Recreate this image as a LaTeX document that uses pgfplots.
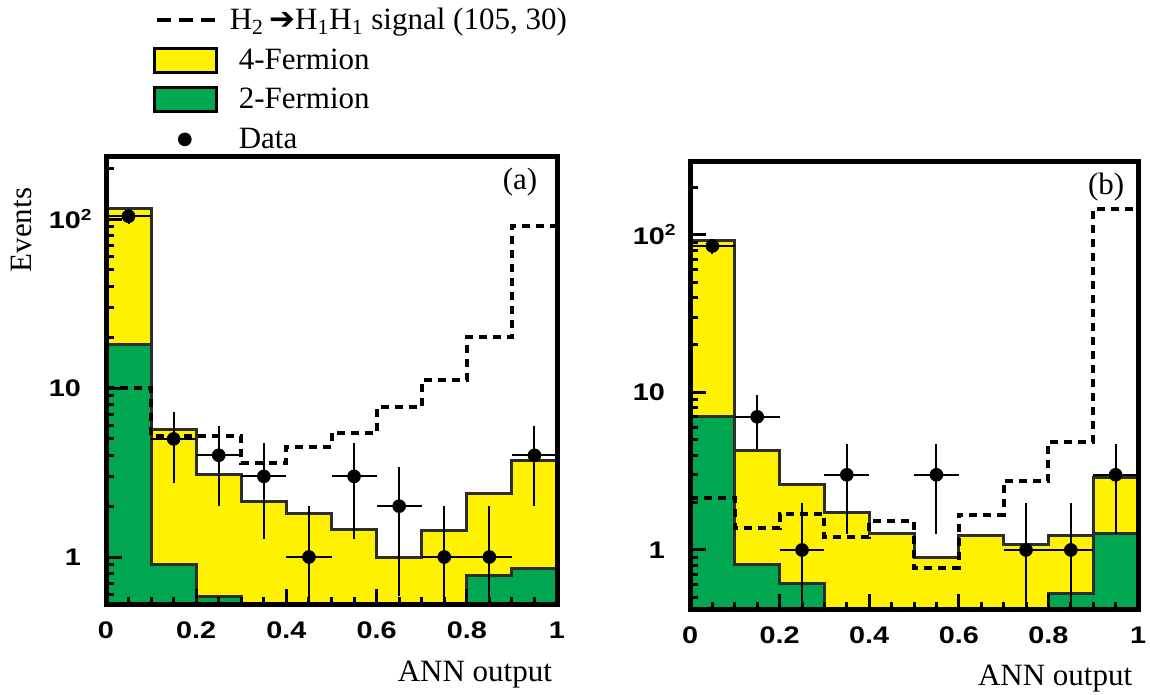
\documentclass[border=0pt]{standalone}
\usepackage{fontspec}
\setmainfont{Liberation Serif}
\newfontfamily\tickfont[FakeStretch=1.2]{Liberation Sans}
\newfontfamily\dejavu{DejaVu Sans}
\usepackage{pgfplots}
\pgfplotsset{compat=1.18}
\definecolor{yfill}{RGB}{255,242,0}
\definecolor{gfill}{RGB}{0,166,80}
\definecolor{outl}{RGB}{45,45,45}
\newcommand{\lblfont}{\fontsize{15.5}{18}\selectfont}
\pgfplotsset{
  myhist/.style={const plot, line width=1.5pt, draw=outl, mark=none},
  mysig/.style={const plot, line width=2pt, black, dash pattern=on 4pt off 3pt, mark=none},
  mydat/.style={only marks, mark=*, mark size=3.2pt, black,
    error bars/x dir=both, error bars/x explicit, error bars/y dir=both, error bars/y explicit,
    error bars/error bar style={line width=1pt, black}, error bars/error mark=none},
}
\begin{document}
\begin{tikzpicture}
\path[use as bounding box] (0,0) rectangle (575pt,347.5pt);
% ---------------- panel (a)
\begin{axis}[at={(53pt,45pt)}, anchor=south west,
    scale only axis, ymode=log, xmin=0, xmax=1, axis on top,
    axis line style={line width=2.5pt},
    every tick/.style={black, line width=1.5pt},
    every major tick/.style={black, line width=1.5pt},
    every minor tick/.style={black, line width=1.5pt},
    xtick style={black, line width=1.5pt}, ytick style={black, line width=1.5pt},
    xmajorticks=true, ymajorticks=true, xminorticks=true, yminorticks=true,
    tick align=inside, xtick pos=bottom, ytick pos=left,
    major tick length=8pt, minor tick length=4pt,
    xtick={0,0.2,0.4,0.6,0.8,1}, xticklabels={0,0.2,0.4,0.6,0.8,1},
    minor xtick={0.05,0.1,0.15,0.25,0.3,0.35,0.45,0.5,0.55,0.65,0.7,0.75,0.85,0.9,0.95},
    ytick={1,10,100}, yticklabels={1,10,10\rlap{\textsuperscript{2}}},
    ticklabel style={font=\tickfont\bfseries\fontsize{12}{14}\selectfont},
    xticklabel style={yshift=-5pt},
    yticklabel style={xshift=-9pt},
    label style={font=\lblfont},
    xlabel={ANN output},
  width=225.5pt, height=224pt, ymin=0.52, ymax=233,
  minor ytick={0.6,0.7,0.8,0.9,2,3,4,5,6,7,8,9,20,30,40,50,60,70,80,90,200},
  ylabel={Events},
  ylabel style={at={(axis description cs:-0.188,0.837)}, anchor=center},
  xlabel style={at={(axis description cs:0.818,-0.156)}, anchor=center},
  legend style={draw=none, fill=none, at={(0.104,1.342)}, anchor=north west,
    font=\lblfont, inner sep=0pt, row sep=4pt,
    /tikz/every odd column/.append style={column sep=8pt}},
  legend cell align=left,
]
\addlegendimage{legend image code/.code={\draw[black, line width=2pt, dash pattern=on 7pt off 4pt] (1pt,0pt) -- (31pt,0pt);}}
\addlegendentry{\hspace{-4.5pt}H\textsubscript{2}\,{\dejavu\bfseries ➔}H\textsubscript{1}H\textsubscript{1}\ signal (105, 30)}
\addlegendimage{legend image code/.code={\draw[fill=yfill, draw=black, line width=1.5pt] (0pt,-6pt) rectangle (31pt,6pt);}}
\addlegendentry{4-Fermion}
\addlegendimage{legend image code/.code={\draw[fill=gfill, draw=black, line width=1.5pt] (0pt,-6pt) rectangle (31pt,6pt);}}
\addlegendentry{2-Fermion}
\addlegendimage{legend image code/.code={\fill[black] (15pt,0pt) circle (3.2pt);}}
\addlegendentry{Data}
% total (4-Fermion stacked on 2-Fermion)
\addplot[myhist, fill=yfill, forget plot] coordinates {(0,0.01) (0,115) (0.1,5.7) (0.2,3.06) (0.3,2.12) (0.4,1.80) (0.5,1.46) (0.6,1.0) (0.7,1.44) (0.8,2.39) (0.9,3.75) (1,3.75) (1,0.01)};
% 2-Fermion
\addplot[myhist, fill=gfill, forget plot] coordinates {(0,0.01) (0,18.2) (0.1,0.90) (0.2,0.58) (0.3,0.01) (0.4,0.01) (0.5,0.01) (0.6,0.01) (0.7,0.01) (0.8,0.78) (0.9,0.86) (1,0.86) (1,0.01)};
% signal
\addplot[mysig, forget plot] coordinates {(0,10.0) (0.1,5.2) (0.2,5.2) (0.3,3.6) (0.4,4.5) (0.5,5.4) (0.6,7.7) (0.7,11.1) (0.8,20) (0.9,91) (1,91)};
% data
\addplot[forget plot, mydat] coordinates {
 (0.05,104) +- (0.05,10.2)
 (0.15,5) +- (0.05,2.24)
 (0.25,4) +- (0.05,2)
 (0.35,3) +- (0.05,1.73)
 (0.45,1) += (0.05,1) -= (0.05,0.99)
 (0.55,3) +- (0.05,1.73)
 (0.65,2) +- (0.05,1.41)
 (0.75,1) += (0.05,1) -= (0.05,0.99)
 (0.85,1) += (0.05,1) -= (0.05,0.99)
 (0.95,4) +- (0.05,2)
};
\node[font=\lblfont] at (rel axis cs:0.918,0.944) {(a)};
\end{axis}
% ---------------- panel (b)
\begin{axis}[at={(345pt,42.5pt)}, anchor=south west,
    scale only axis, ymode=log, xmin=0, xmax=1, axis on top,
    axis line style={line width=2.5pt},
    every tick/.style={black, line width=1.5pt},
    every major tick/.style={black, line width=1.5pt},
    every minor tick/.style={black, line width=1.5pt},
    xtick style={black, line width=1.5pt}, ytick style={black, line width=1.5pt},
    xmajorticks=true, ymajorticks=true, xminorticks=true, yminorticks=true,
    tick align=inside, xtick pos=bottom, ytick pos=left,
    major tick length=8pt, minor tick length=4pt,
    xtick={0,0.2,0.4,0.6,0.8,1}, xticklabels={0,0.2,0.4,0.6,0.8,1},
    minor xtick={0.05,0.1,0.15,0.25,0.3,0.35,0.45,0.5,0.55,0.65,0.7,0.75,0.85,0.9,0.95},
    ytick={1,10,100}, yticklabels={1,10,10\rlap{\textsuperscript{2}}},
    ticklabel style={font=\tickfont\bfseries\fontsize{12}{14}\selectfont},
    xticklabel style={yshift=-5pt},
    yticklabel style={xshift=-9pt},
    label style={font=\lblfont},
    xlabel={ANN output},
  width=224pt, height=224pt, ymin=0.416, ymax=290,
  minor ytick={0.5,0.6,0.7,0.8,0.9,2,3,4,5,6,7,8,9,20,30,40,50,60,70,80,90,200},
  xlabel style={at={(axis description cs:0.815,-0.152)}, anchor=center},
]
\addplot[myhist, fill=yfill] coordinates {(0,0.01) (0,91.6) (0.1,4.25) (0.2,2.62) (0.3,1.74) (0.4,1.28) (0.5,0.89) (0.6,1.23) (0.7,1.08) (0.8,1.23) (0.9,2.9) (1,2.9) (1,0.01)};
\addplot[myhist, fill=gfill] coordinates {(0,0.01) (0,7.0) (0.1,0.81) (0.2,0.61) (0.3,0.01) (0.4,0.01) (0.5,0.01) (0.6,0.01) (0.7,0.01) (0.8,0.53) (0.9,1.28) (1,1.28) (1,0.01)};
\addplot[mysig] coordinates {(0,2.14) (0.1,1.38) (0.2,1.69) (0.3,1.21) (0.4,1.53) (0.5,0.77) (0.6,1.67) (0.7,2.74) (0.8,4.85) (0.9,146) (1,146)};
\addplot[mydat] coordinates {
 (0.05,85) +- (0.05,9.2)
 (0.15,7) +- (0.05,2.65)
 (0.25,1) += (0.05,1) -= (0.05,0.99)
 (0.35,3) +- (0.05,1.73)
 (0.55,3) +- (0.05,1.73)
 (0.75,1) += (0.05,1) -= (0.05,0.99)
 (0.85,1) += (0.05,1) -= (0.05,0.99)
 (0.95,3) +- (0.05,1.73)
};
\node[font=\lblfont] at (rel axis cs:0.929,0.944) {(b)};
\end{axis}
\end{tikzpicture}
\end{document}
